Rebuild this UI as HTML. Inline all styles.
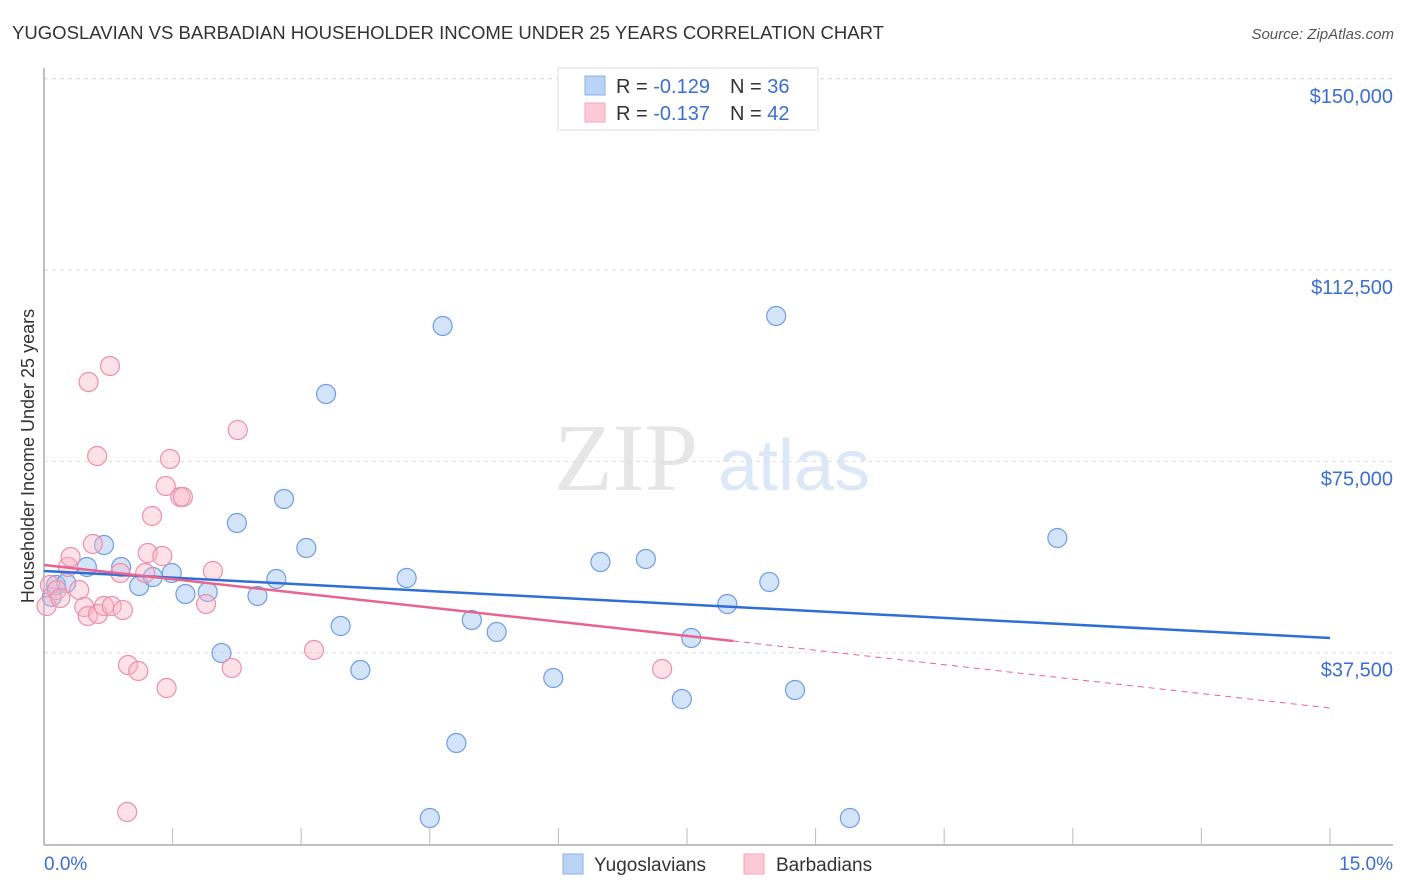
<!DOCTYPE html>
<html><head><meta charset="utf-8"><style>
body{margin:0;background:#fff;font-family:"Liberation Sans",sans-serif}
svg{display:block}
</style></head><body>
<svg id="c" width="1406" height="892" xmlns="http://www.w3.org/2000/svg">
<text x="12" y="39" font-size="18" fill="#333" textLength="872" lengthAdjust="spacingAndGlyphs">YUGOSLAVIAN VS BARBADIAN HOUSEHOLDER INCOME UNDER 25 YEARS CORRELATION CHART</text>
<text x="1394" y="39" font-size="15" fill="#555" font-style="italic" text-anchor="end">Source: ZipAtlas.com</text>
<g>
<text x="554" y="490" font-size="96" font-family="Liberation Serif,serif" fill="#e6e6e6">ZIP</text>
<text x="718" y="490" font-size="72" fill="#dce8f7">atlas</text>
</g>
<g id="grid"></g>
<g id="axes"></g>
<g id="pts"></g>
<g id="trend"></g>
<g>
<rect x="558" y="68" width="260" height="62" fill="#fff" stroke="#ddd"/>
<rect x="585" y="76" width="20" height="19" fill="#b8d3f5" stroke="#8ab0e3"/>
<rect x="585" y="103" width="20" height="19" fill="#fdc8d7" stroke="#f2a5bb"/>
<text x="616" y="93" font-size="20" fill="#333">R = <tspan fill="#3a6fd0">-0.129</tspan><tspan dx="20">N = </tspan><tspan fill="#3a6fd0">36</tspan></text>
<text x="616" y="120" font-size="20" fill="#333">R = <tspan fill="#3a6fd0">-0.137</tspan><tspan dx="20">N = </tspan><tspan fill="#3a6fd0">42</tspan></text>
</g>
<g>
<rect x="563" y="854" width="20" height="20" fill="#b8d3f5" stroke="#8ab0e3"/>
<text x="594" y="871" font-size="19" fill="#333">Yugoslavians</text>
<rect x="744" y="854" width="20" height="20" fill="#fdc8d7" stroke="#f2a5bb"/>
<text x="776" y="871" font-size="19" fill="#333">Barbadians</text>
</g>
<text transform="translate(34,456) rotate(-90)" font-size="18" fill="#333" text-anchor="middle">Householder Income Under 25 years</text>
</svg>
<script>
const yTicks=[37500,75000,112500,150000];
const yTickLabels=["$37,500","$75,000","$112,500","$150,000"];
const xLabels=["0.0%","15.0%"];
const blueX=[0.09,0.14,0.26,0.50,0.70,0.90,1.11,1.27,1.49,1.65,1.91,2.07,2.25,2.49,2.71,2.80,3.06,3.29,3.46,3.69,4.23,4.50,4.65,4.81,4.99,5.28,5.94,6.49,7.02,7.44,7.55,7.97,8.46,8.54,8.76,9.40,11.82];
const blueY=[48420,50770,51160,54300,58610,54300,50580,52340,53120,49010,49400,37440,62930,48620,51950,67630,58030,88210,42730,34110,52140,5100,101540,19800,43910,41560,32540,55280,55870,28420,40380,47050,51360,103500,30190,5100,59990];
const pinkX=[0.03,0.07,0.15,0.19,0.28,0.31,0.41,0.47,0.51,0.52,0.57,0.62,0.63,0.70,0.79,0.89,0.92,0.98,1.10,0.77,1.18,1.21,1.26,1.38,1.42,1.43,1.47,1.59,1.62,1.89,1.97,2.19,2.26,3.15,0.97,7.21];
const pinkY=[46650,50770,49790,48220,54300,56260,49790,46460,44700,90570,58810,76060,45090,46650,46650,53120,45870,35090,33910,93700,53120,57040,64300,56450,70180,30580,75470,68020,68020,47050,53520,34500,81160,38030,6270,34310];
const blueTrend=[[0,53520],[15,40380]];
const pinkTrend=[[0,54690],[8.04,39790],[15,26660]];
const X=v=>44+v/15*1286, Y=v=>844-v/37500*191.3;
const NS="http://www.w3.org/2000/svg";
function mk(p,t,a){const e=document.createElementNS(NS,t);for(const k in a)e.setAttribute(k,a[k]);document.getElementById(p).appendChild(e);return e;}
let g=mk('grid','line',{x1:44,x2:1393,y1:Y(150000),y2:Y(150000),stroke:"#ddd","stroke-dasharray":"4,4"});

yTicks.forEach((t,i)=>{
 const l=mk('grid','line',{x1:44,x2:1393,y1:Y(t),y2:Y(t),stroke:"#ddd","stroke-dasharray":"4,4"});
 
 
 const tx=mk('axes','text',{x:1393,y:Y(t)+24,"font-size":20,fill:"#3a6fd0","text-anchor":"end"});
 tx.textContent=yTickLabels[i];
 
 
});
let a=mk('axes','line',{x1:44,x2:44,y1:68,y2:845,stroke:"#aaa","stroke-width":1.5});

a=mk('axes','line',{x1:44,x2:1393,y1:845,y2:845,stroke:"#aaa","stroke-width":1.5});

for(let i=1;i<=10;i++){const t=mk('axes','line',{x1:X(i*1.5),x2:X(i*1.5),y1:828,y2:845,stroke:"#bbb"});
 
 }
[0,15].forEach((v,i)=>{const t=mk('axes','text',{x:i?1393:44,y:870,"font-size":19,fill:"#3a6fd0","text-anchor":i?"end":"start"});t.textContent=xLabels[i];
 
 });
blueX.forEach((x,i)=>{const c=mk('pts','circle',{cx:X(x),cy:Y(blueY[i]),r:9.5,fill:"rgba(160,195,240,0.45)",stroke:"#6f9de0","stroke-width":1.2});
 
 });
pinkX.forEach((x,i)=>{const c=mk('pts','circle',{cx:X(x),cy:Y(pinkY[i]),r:9.5,fill:"rgba(250,180,200,0.4)",stroke:"#ec8fab","stroke-width":1.2});
 
 });
let t=mk('trend','line',{x1:X(blueTrend[0][0]),y1:Y(blueTrend[0][1]),x2:X(blueTrend[1][0]),y2:Y(blueTrend[1][1]),stroke:"#2e6fd6","stroke-width":2.5});

t=mk('trend','line',{x1:X(pinkTrend[0][0]),y1:Y(pinkTrend[0][1]),x2:X(pinkTrend[1][0]),y2:Y(pinkTrend[1][1]),stroke:"#e8648f","stroke-width":2.5});

t=mk('trend','line',{x1:X(pinkTrend[1][0]),y1:Y(pinkTrend[1][1]),x2:X(pinkTrend[2][0]),y2:Y(pinkTrend[2][1]),stroke:"#e8648f","stroke-width":1,"stroke-dasharray":"6,5"});

</script>
</body></html>
